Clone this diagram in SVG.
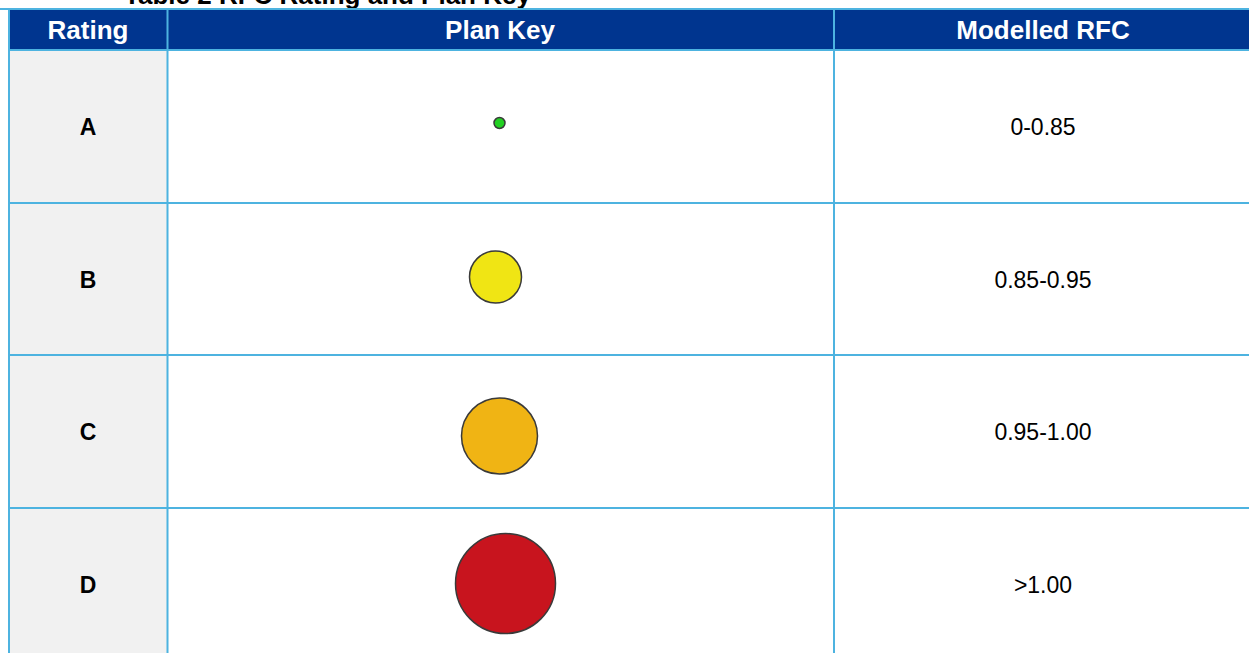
<svg xmlns="http://www.w3.org/2000/svg" width="1249" height="653" viewBox="0 0 1249 653">
<style>
.hdr{fill:#00358F}
.grid{stroke:#4DB3E0;stroke-width:2;fill:none}
.ht{font-family:"Liberation Sans",Arial,sans-serif;font-size:26px;font-weight:bold;fill:#FFFFFF;text-anchor:middle}
.rt{font-family:"Liberation Sans",Arial,sans-serif;font-size:23px;font-weight:bold;fill:#000;text-anchor:middle}
.vt{font-family:"Liberation Sans",Arial,sans-serif;font-size:23px;fill:#000;text-anchor:middle}
.dot{stroke:#3a3a3a;stroke-width:1.5}
</style>
<rect width="1249" height="653" fill="#FFFFFF"/>
<text x="124" y="4" font-family="Liberation Sans, Arial, sans-serif" font-size="26" font-weight="bold" fill="#000">Table 2 RFC Rating and Plan Key</text>
<g id="header">
<rect class="hdr" x="9" y="9" width="1245" height="41"/>
<text class="ht" x="88" y="39">Rating</text>
<text class="ht" x="500" y="39">Plan Key</text>
<text class="ht" x="1043" y="39">Modelled RFC</text>
</g>
<rect x="9" y="50" width="158" height="603" fill="#F1F1F1"/>
<g id="rowA">
<text class="rt" x="88" y="135">A</text>
<circle class="dot" cx="499.5" cy="123" r="5.5" fill="#22D022"/>
<text class="vt" x="1043" y="135">0-0.85</text>
</g>
<g id="rowB">
<text class="rt" x="88" y="288">B</text>
<circle class="dot" cx="495.5" cy="277" r="26" fill="#F0E514"/>
<text class="vt" x="1043" y="288">0.85-0.95</text>
</g>
<g id="rowC">
<text class="rt" x="88" y="440">C</text>
<circle class="dot" cx="499.5" cy="436" r="38" fill="#F0B414"/>
<text class="vt" x="1043" y="440">0.95-1.00</text>
</g>
<g id="rowD">
<text class="rt" x="88" y="593">D</text>
<circle class="dot" cx="505.5" cy="583.5" r="50" fill="#C8141E"/>
<text class="vt" x="1043" y="593">&gt;1.00</text>
</g>
<g id="connectors" class="grid">
<line x1="0" y1="9" x2="1249" y2="9"/>
<line x1="9" y1="8" x2="9" y2="653"/>
<line x1="167.5" y1="9" x2="167.5" y2="653"/>
<line x1="834" y1="9" x2="834" y2="653"/>
<line x1="9" y1="50" x2="1249" y2="50"/>
<line x1="9" y1="203" x2="1249" y2="203"/>
<line x1="9" y1="355" x2="1249" y2="355"/>
<line x1="9" y1="508" x2="1249" y2="508"/>
</g>
</svg>
